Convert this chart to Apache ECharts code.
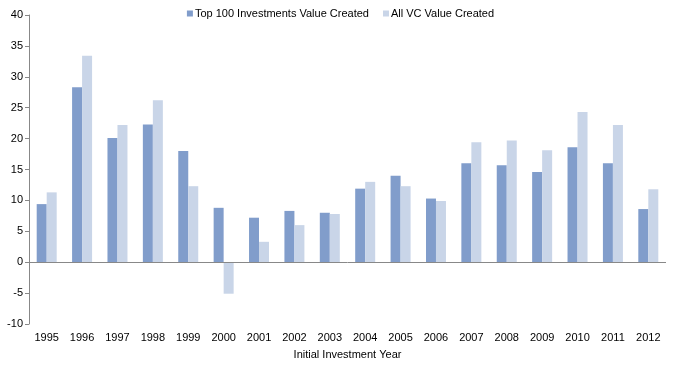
<!DOCTYPE html>
<html><head><meta charset="utf-8">
<script src="https://cdn.jsdelivr.net/npm/echarts@6/dist/echarts.min.js"></script>
<style>html,body{margin:0;padding:0;background:#fff}#c{width:681px;height:365px}</style>
</head><body><div id="c"></div>
<script>
const years = ['1995','1996','1997','1998','1999','2000','2001','2002','2003','2004','2005','2006','2007','2008','2009','2010','2011','2012'];
const top100 = [9.4,28.3,20.1,22.3,18.0,8.8,7.2,8.3,8.0,11.9,14.0,10.3,16.0,15.7,14.6,18.6,16.0,8.6];
const allVC = [11.3,33.4,22.2,26.2,12.3,-5.1,3.3,6.0,7.8,13.0,12.3,9.9,19.4,19.7,18.1,24.3,22.2,11.8];
const font = 'Liberation Sans, Arial, sans-serif';
const chart = echarts.init(document.getElementById('c'));
chart.setOption({
  animation: false,
  legend: {
    top: 3, left: 'center', itemWidth: 6, itemHeight: 6, itemGap: 14,
    icon: 'rect',
    textStyle: {fontFamily: font, fontSize: 11, color: '#000', padding: [0, 0, 0, -3]},
    data: ['Top 100 Investments Value Created', 'All VC Value Created']
  },
  grid: {left: 29, right: 15, top: 15, bottom: 41},
  xAxis: {
    type: 'category', data: years,
    name: 'Initial Investment Year', nameLocation: 'middle', nameGap: 25,
    nameTextStyle: {fontFamily: font, fontSize: 11, color: '#000'},
    axisLine: {show: false, onZero: false},
    axisTick: {show: false},
    axisLabel: {fontFamily: font, fontSize: 11, color: '#000', margin: 8}
  },
  yAxis: {
    type: 'value', min: -10, max: 40, interval: 5,
    axisLine: {show: true, lineStyle: {color: '#888'}},
    axisTick: {show: true, length: 4, lineStyle: {color: '#888'}},
    splitLine: {show: false},
    axisLabel: {fontFamily: font, fontSize: 11, color: '#000', margin: 6}
  },
  series: [
    {name: 'Top 100 Investments Value Created', type: 'bar', data: top100, barWidth: 10, barGap: '0%',
     itemStyle: {color: '#819DCB'},
     markLine: {silent: true, symbol: 'none', label: {show: false},
       lineStyle: {color: '#888', type: 'solid', width: 1}, data: [{yAxis: 0}]}},
    {name: 'All VC Value Created', type: 'bar', data: allVC, barWidth: 10, barGap: '0%',
     itemStyle: {color: '#C9D5E8'}}
  ]
});
</script></body></html>
